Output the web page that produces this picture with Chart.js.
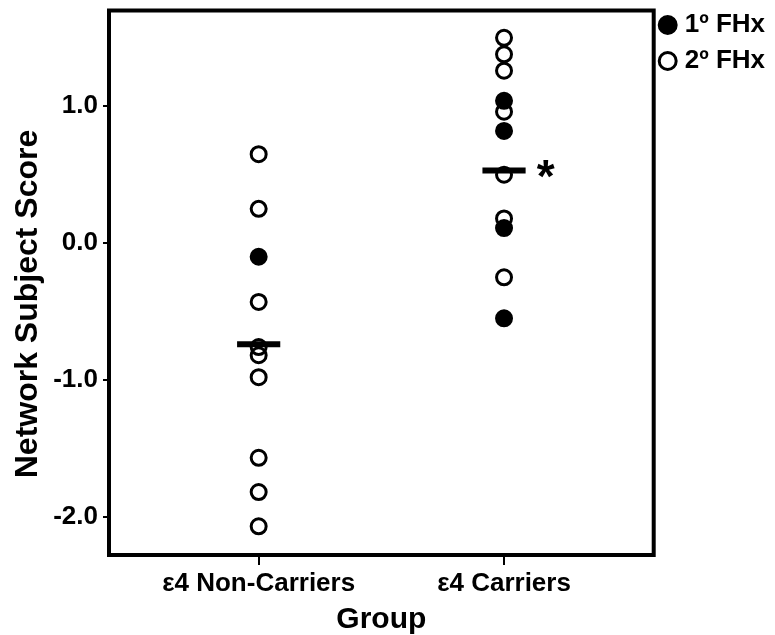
<!DOCTYPE html>
<html>
<head>
<meta charset="utf-8">
<script src="https://cdn.jsdelivr.net/npm/chart.js@4.4.1/dist/chart.umd.min.js"></script>
<style>
  html, body { margin: 0; padding: 0; background: #fff; }
  #wrap { width: 775px; height: 635px; }
</style>
</head>
<body>
<div id="wrap"><canvas id="scoreChart"></canvas></div>
<script>
const groups = ["ε4 Non-Carriers", "ε4 Carriers"];
// subject scores, 1º FHx (filled) and 2º FHx (open)
const nonCarriers1 = [-0.10];
const nonCarriers2 = [0.65, 0.25, -0.43, -0.76, -0.82, -0.98, -1.57, -1.82, -2.07];
const carriers1 = [1.04, 0.82, 0.11, -0.55];
const carriers2 = [1.50, 1.38, 1.26, 0.96, 0.50, 0.18, -0.25];
const groupMeans = [-0.74, 0.53];
const yTicks = [-2, -1, 0, 1];
const yTitle = "Network Subject Score";
const sigMark = "*";

const FONT = "'Liberation Sans', Arial, sans-serif";
const BAR_HALF = 0.088;

function toPoints(values, x) {
  return values.map((v) => ({ x: x, y: v }));
}

// black frame around the plot area
const framePlugin = {
  id: "frame",
  afterDraw(chart) {
    const { ctx, chartArea: a } = chart;
    ctx.save();
    ctx.strokeStyle = "#000";
    ctx.lineWidth = 4;
    ctx.strokeRect(a.left, a.top, a.right - a.left, a.bottom - a.top);
    ctx.restore();
  },
};

// y title (sits a bit below the middle of the plot) and the significance star
const textPlugin = {
  id: "texts",
  afterDatasetsDraw(chart) {
    const { ctx, scales } = chart;
    ctx.save();
    ctx.fillStyle = "#000";
    ctx.font = "bold 46px " + FONT;
    ctx.textAlign = "center";
    ctx.textBaseline = "alphabetic";
    const x = scales.x.getPixelForValue(2.17);
    const y = scales.y.getPixelForValue(groupMeans[1]);
    ctx.fillText(sigMark, x, y + 21);

    ctx.translate(28, 304);
    ctx.rotate(-Math.PI / 2);
    ctx.font = "bold 32px " + FONT;
    ctx.textBaseline = "middle";
    ctx.fillText(yTitle, 0, 0);
    ctx.restore();
  },
};

const meanSets = groupMeans.map((m, i) => ({
  type: "line",
  data: [
    { x: i + 1 - BAR_HALF, y: m },
    { x: i + 1 + BAR_HALF, y: m },
  ],
  borderColor: "#000",
  borderWidth: 6,
  borderCapStyle: "butt",
  pointRadius: 0,
  showLine: true,
}));

new Chart(document.getElementById("scoreChart"), {
  type: "scatter",
  data: {
    datasets: [
      {
        label: "1º FHx",
        data: toPoints(nonCarriers1, 1).concat(toPoints(carriers1, 2)),
        backgroundColor: "#000",
        borderColor: "#000",
        borderWidth: 3,
        pointRadius: 7.5,
      },
      {
        label: "2º FHx",
        data: toPoints(nonCarriers2, 1).concat(toPoints(carriers2, 2)),
        backgroundColor: "rgba(0,0,0,0)",
        borderColor: "#000",
        borderWidth: 3,
        pointRadius: 7.5,
      },
      ...meanSets,
    ],
  },
  options: {
    responsive: true,
    maintainAspectRatio: false,
    animation: false,
    layout: { padding: { top: 2, right: 0, left: 0, bottom: 0 } },
    plugins: {
      tooltip: { enabled: false },
      legend: {
        position: "right",
        align: "start",
        labels: {
          usePointStyle: true,
          pointStyle: "circle",
          boxWidth: 8,
          boxHeight: 12,
          padding: 10,
          color: "#000",
          font: { family: FONT, size: 26, weight: "bold" },
          filter: (item) => item.datasetIndex < 2,
        },
      },
    },
    scales: {
      x: {
        type: "linear",
        min: 0.39,
        max: 2.61,
        afterBuildTicks: (scale) => {
          scale.ticks = groups.map((g, i) => ({ value: i + 1 }));
        },
        afterFit: (scale) => {
          scale.height = 80;
        },
        ticks: {
          color: "#000",
          padding: 3,
          font: { family: FONT, size: 26, weight: "bold" },
          callback: (v) => groups[v - 1],
        },
        grid: {
          drawOnChartArea: false,
          drawTicks: true,
          tickLength: 10,
          color: "#000",
          lineWidth: 2,
        },
        border: { display: false },
        title: {
          display: true,
          text: "Group",
          color: "#000",
          padding: { top: 0, bottom: 0 },
          font: { family: FONT, size: 30, weight: "bold", lineHeight: 1 },
        },
      },
      y: {
        min: -2.28,
        max: 1.7,
        afterBuildTicks: (scale) => {
          scale.ticks = yTicks.map((v) => ({ value: v }));
        },
        afterFit: (scale) => {
          scale.width = 109;
          scale.paddingTop = 9;
          scale.paddingBottom = 0;
        },
        ticks: {
          color: "#000",
          padding: 5,
          font: { family: FONT, size: 26, weight: "bold" },
          callback: (v) => v.toFixed(1),
        },
        grid: {
          drawOnChartArea: false,
          drawTicks: true,
          tickLength: 6,
          color: "#000",
          lineWidth: 2,
        },
        border: { display: false },
      },
    },
  },
  plugins: [framePlugin, textPlugin],
});
</script>
</body>
</html>
